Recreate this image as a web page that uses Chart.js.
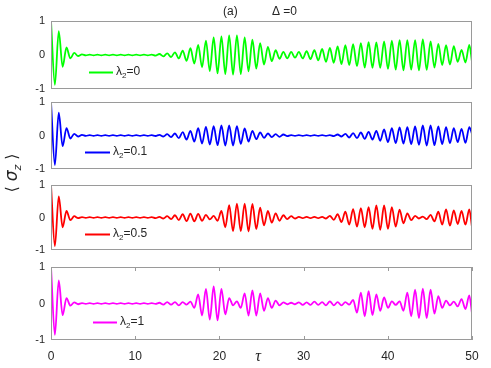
<!DOCTYPE html>
<html><head><meta charset="utf-8">
<script src="https://cdn.jsdelivr.net/npm/chart.js@4"></script>
<style>
html,body{margin:0;padding:0;background:#fff;}
#wrap{position:relative;width:491px;height:368px;overflow:hidden;}
canvas{position:absolute;left:0;top:0;}
</style></head><body>
<div id="wrap">
<canvas id="c1" width="491" height="368"></canvas>
<canvas id="c2" width="491" height="368"></canvas>
<canvas id="c3" width="491" height="368"></canvas>
<canvas id="c4" width="491" height="368"></canvas>
</div>
<script>
// ---- data (extrema of the oscillation) ----
const tau = [0,0.46,0.92,1.38,1.84,2.3,2.76,3.22,3.68,4.14,4.6,5.06,5.52,5.98,6.44,6.9,7.36,7.82,8.28,8.74,9.2,9.66,10.12,10.58,11.04,11.5,11.96,12.42,12.88,13.34,13.8,14.26,14.72,15.18,15.64,16.1,16.56,17.02,17.48,17.94,18.4,18.86,19.32,19.78,20.24,20.7,21.16,21.62,22.08,22.54,23.0,23.46,23.92,24.38,24.84,25.3,25.76,26.22,26.68,27.14,27.6,28.06,28.52,28.98,29.44,29.9,30.36,30.82,31.28,31.74,32.2,32.66,33.12,33.58,34.04,34.5,34.96,35.42,35.88,36.34,36.8,37.26,37.72,38.18,38.64,39.1,39.56,40.02,40.48,40.94,41.4,41.86,42.32,42.78,43.24,43.7,44.16,44.62,45.08,45.54,46.0,46.46,46.92,47.38,47.84,48.3,48.76,49.22,49.68,50];

const sz_lambda0 = [1,-0.88,0.70,-0.35,0.22,-0.10,0.06,-0.03,0.02,-0.01,0.01,-0.01,0.01,-0.01,0.01,-0.01,0.01,-0.01,0.01,-0.01,0.01,-0.01,0.01,-0.01,0.01,-0.01,0.01,-0.02,0.03,-0.04,0.05,-0.06,0.08,-0.10,0.13,-0.17,0.20,-0.25,0.30,-0.36,0.42,-0.47,0.52,-0.54,0.55,-0.56,0.58,-0.58,0.58,-0.56,0.52,-0.48,0.45,-0.40,0.35,-0.28,0.24,-0.18,0.14,-0.11,0.09,-0.10,0.09,-0.08,0.09,-0.10,0.11,-0.12,0.14,-0.16,0.18,-0.20,0.21,-0.23,0.25,-0.27,0.29,-0.30,0.32,-0.33,0.35,-0.37,0.38,-0.38,0.37,-0.38,0.40,-0.41,0.42,-0.43,0.44,-0.45,0.44,-0.43,0.44,-0.45,0.46,-0.44,0.40,-0.37,0.33,-0.30,0.29,-0.28,0.26,-0.20,0.15,-0.22,0.30,-0.20];

const sz_lambda01 = [1,-0.88,0.68,-0.32,0.22,-0.09,0.05,-0.03,0.02,-0.01,0.01,-0.01,0.01,-0.01,0.01,-0.01,0.01,-0.01,0.01,-0.01,0.01,-0.01,0.01,-0.01,0.01,-0.01,0.01,-0.015,0.02,-0.03,0.04,-0.05,0.06,-0.08,0.10,-0.12,0.14,-0.18,0.22,-0.24,0.26,-0.27,0.28,-0.29,0.30,-0.30,0.30,-0.30,0.28,-0.25,0.21,-0.18,0.14,-0.11,0.09,-0.07,0.06,-0.05,0.04,-0.04,0.03,-0.02,0.01,-0.01,0.01,-0.01,0.01,-0.01,0.01,-0.01,0.01,-0.01,0.01,-0.02,0.03,-0.03,0.05,-0.06,0.07,-0.08,0.09,-0.10,0.11,-0.12,0.14,-0.16,0.18,-0.20,0.22,-0.23,0.24,-0.24,0.25,-0.26,0.27,-0.28,0.30,-0.30,0.30,-0.29,0.27,-0.26,0.25,-0.23,0.22,-0.20,0.20,-0.22,0.25,0.05];

const sz_lambda05 = [1,-0.88,0.65,-0.30,0.20,-0.08,0.04,-0.02,0.01,-0.01,0.01,-0.01,0.01,-0.01,0.01,-0.01,0.01,-0.01,0.01,-0.01,0.01,-0.01,0.01,-0.01,0.01,-0.01,0.01,-0.02,0.02,-0.03,0.04,-0.05,0.07,-0.08,0.10,-0.11,0.12,-0.12,0.11,-0.10,0.08,-0.06,0.05,-0.10,0.20,-0.30,0.38,-0.42,0.43,-0.42,0.43,-0.43,0.42,-0.36,0.30,-0.24,0.20,-0.16,0.13,-0.10,0.07,-0.05,0.04,-0.03,0.02,-0.02,0.02,-0.02,0.02,-0.02,0.02,-0.03,0.05,-0.07,0.10,-0.14,0.18,-0.22,0.26,-0.28,0.29,-0.30,0.32,-0.35,0.37,-0.38,0.37,-0.35,0.32,-0.28,0.24,-0.18,0.13,-0.08,0.05,-0.03,0.03,-0.05,0.08,-0.12,0.18,-0.22,0.25,-0.25,0.22,-0.20,0.20,-0.22,0.25,-0.30];

const sz_lambda1 = [1,-0.86,0.63,-0.32,0.15,-0.06,0.03,-0.02,0.01,-0.01,0.01,-0.01,0.01,-0.01,0.01,-0.01,0.01,-0.01,0.01,-0.01,0.01,-0.01,0.01,-0.01,0.01,-0.01,0.01,-0.01,0.02,-0.03,0.04,-0.03,0.04,-0.05,0.04,-0.03,0.05,-0.12,0.25,-0.33,0.40,-0.44,0.47,-0.46,0.40,-0.30,0.15,-0.05,0.06,-0.12,0.28,-0.33,0.36,-0.33,0.28,-0.20,0.15,-0.12,0.08,-0.05,0.03,-0.02,0.02,-0.02,0.03,-0.04,0.03,-0.04,0.05,-0.04,0.04,-0.05,0.06,-0.05,0.04,-0.05,0.04,-0.03,0.10,-0.25,0.30,-0.35,0.34,-0.32,0.25,-0.20,0.17,-0.12,0.06,-0.04,0.06,-0.20,0.30,-0.35,0.38,-0.40,0.41,-0.40,0.38,-0.28,0.20,-0.12,0.08,-0.05,0.05,-0.08,0.12,-0.15,0.22,-0.27];

const xTicks = [0,10,20,30,40,50];
const yTicks = [-1,0,1];
const lambdaValues = ['0','0.1','0.5','1'];
const titleText = '(a)';
const deltaText = '\u0394 =0';

// ---- layout / style ----
const FONT = '"Liberation Sans", Arial, Helvetica, sans-serif';
const panels = [
  {id:'c1', top:21,  bottom:89,  color:'#00ff00', values:sz_lambda0,  lam:lambdaValues[0], lx0:89, lx1:113, ly:72,  xAxis:false},
  {id:'c2', top:102, bottom:169, color:'#0000ff', values:sz_lambda01, lam:lambdaValues[1], lx0:85, lx1:110, ly:152, xAxis:false},
  {id:'c3', top:185, bottom:250, color:'#ff0000', values:sz_lambda05, lam:lambdaValues[2], lx0:85, lx1:110, ly:234, xAxis:false},
  {id:'c4', top:267, bottom:340, color:'#ff00ff', values:sz_lambda1,  lam:lambdaValues[3], lx0:93, lx1:117, ly:322, xAxis:true}
];

function makePlugin(p, idx){
  return {
    id:'deco'+idx,
    afterDraw(chart){
      const ctx = chart.ctx, a = chart.chartArea;
      ctx.save();
      ctx.strokeStyle = '#9a9a9a'; ctx.lineWidth = 1;
      ctx.strokeRect(Math.round(a.left)+0.5, Math.round(a.top)+0.5, Math.round(a.right-a.left)-1, Math.round(a.bottom-a.top)-1);
      if (p.xAxis){
        const xs = chart.scales.x;
        ctx.beginPath();
        xTicks.forEach(v=>{
          const px = Math.round(xs.getPixelForValue(v))+0.5;
          ctx.moveTo(px, a.top); ctx.lineTo(px, a.top+4);
          ctx.moveTo(px, a.bottom); ctx.lineTo(px, a.bottom-4);
        });
        ctx.stroke();
        ctx.fillStyle = '#262626';
        ctx.font = 'italic 16px "Liberation Serif", "DejaVu Serif", serif';
        ctx.textAlign = 'center'; ctx.textBaseline = 'middle';
        ctx.fillText('\u03C4', 258, 357);
      }
      ctx.strokeStyle = p.color; ctx.lineWidth = 2;
      ctx.beginPath(); ctx.moveTo(p.lx0, p.ly+0.5); ctx.lineTo(p.lx1, p.ly+0.5); ctx.stroke();
      ctx.fillStyle = '#262626'; ctx.textAlign = 'left'; ctx.textBaseline = 'middle';
      let x = p.lx1 + 3;
      ctx.font = '12px ' + FONT;
      ctx.fillText('\u03BB', x, p.ly); x += ctx.measureText('\u03BB').width;
      ctx.font = '8px ' + FONT;
      ctx.fillText('2', x, p.ly+4); x += ctx.measureText('2').width;
      ctx.font = '12px ' + FONT;
      ctx.fillText('=' + p.lam, x, p.ly);
      if (idx === 0){
        ctx.font = '12px ' + FONT;
        ctx.textAlign = 'left';
        ctx.fillText(titleText, 223, 12);
        ctx.fillText(deltaText, 272, 12);
        ctx.translate(13, 173);
        ctx.rotate(-Math.PI/2);
        const parts = [
          {t:'\u27E8 ', f:'16px "DejaVu Sans", sans-serif', dy:0},
          {t:'\u03C3', f:'italic 17px "DejaVu Sans", sans-serif', dy:0},
          {t:'z', f:'italic 11px "DejaVu Sans", sans-serif', dy:5},
          {t:' \u27E9', f:'16px "DejaVu Sans", sans-serif', dy:0}
        ];
        let w = 0;
        parts.forEach(s=>{ctx.font=s.f; w += ctx.measureText(s.t).width;});
        let cx = -w/2;
        parts.forEach(s=>{ctx.font=s.f; ctx.fillText(s.t, cx, s.dy); cx += ctx.measureText(s.t).width;});
      }
      ctx.restore();
    }
  };
}

panels.forEach((p, idx)=>{
  new Chart(document.getElementById(p.id), {
    type:'line',
    data:{datasets:[{
      data: tau.map((t,i)=>({x:t, y:p.values[i]})),
      borderColor:p.color, borderWidth:1.8, pointRadius:0,
      cubicInterpolationMode:'monotone', fill:false
    }]},
    options:{
      responsive:false, animation:false, devicePixelRatio:1,
      layout:{padding:{left:0, right:19, top:p.top, bottom:p.xAxis ? 0 : 368 - p.bottom}},
      plugins:{legend:{display:false}, tooltip:{enabled:false}},
      scales:{
        x:{type:'linear', min:0, max:50, display:p.xAxis,
           grid:{display:false, drawTicks:false}, border:{display:false},
           ticks:{padding:9, color:'#262626', font:{size:12, family:FONT}, maxRotation:0, autoSkip:false},
           afterBuildTicks:(s)=>{ s.ticks = xTicks.map(v=>({value:v})); },
           afterFit:(s)=>{ s.height = p.xAxis ? 368 - p.bottom : 0; }},
        y:{type:'linear', min:-1, max:1,
           grid:{display:false, drawTicks:false}, border:{display:false},
           ticks:{padding:6, color:'#262626', font:{size:11, family:FONT}},
           afterBuildTicks:(s)=>{ s.ticks = yTicks.map(v=>({value:v})); },
           afterFit:(s)=>{ s.width = 51; }}
      }
    },
    plugins:[makePlugin(p, idx)]
  });
});
</script>
</body></html>
